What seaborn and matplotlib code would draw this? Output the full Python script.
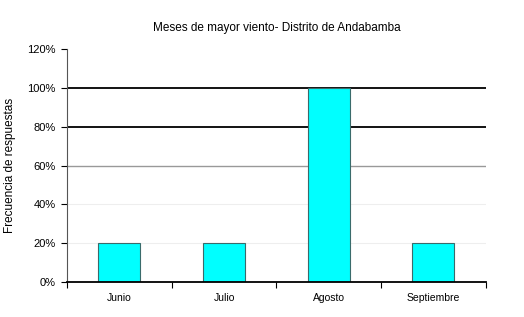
import matplotlib
matplotlib.use("Agg")
import matplotlib.pyplot as plt
import seaborn as sns
import pandas as pd

meses = ["Junio", "Julio", "Agosto", "Septiembre"]
frecuencia = [20, 20, 100, 20]
y_ticks = [0, 20, 40, 60, 80, 100, 120]

sns.set_style("white")
plt.rcParams["font.family"] = ["Liberation Sans", "DejaVu Sans"]
plt.rcParams["text.color"] = "black"
plt.rcParams["axes.labelcolor"] = "black"
plt.rcParams["xtick.color"] = "black"
plt.rcParams["ytick.color"] = "black"

df = pd.DataFrame({"Mes": meses, "Frecuencia": frecuencia})

fig = plt.figure(figsize=(5.24, 3.17), dpi=100)
ax = fig.add_axes([0.128, 0.110, 0.799, 0.735])

# grid lines drawn by hand, heavier at the top like the original
grid_styles = {100: ("black", 1.3), 80: ("black", 1.3), 60: ("#999999", 1.0),
               40: ("#eeeeee", 0.8), 20: ("#eeeeee", 0.8)}
for val, (c, lw) in grid_styles.items():
    ax.axhline(val, color=c, lw=lw, zorder=0)

sns.barplot(data=df, x="Mes", y="Frecuencia", color="#00FFFF", saturation=1,
            width=0.4, edgecolor="#3a6b6b", linewidth=0.8, ax=ax, zorder=2)

ax.set_ylim(0, 120)
ax.set_xlim(-0.5, 3.5)
ax.set_yticks(y_ticks)
ax.set_yticklabels([f"{v}%" for v in y_ticks])
ax.set_xlabel("")
ax.set_ylabel("Frecuencia de respuestas", fontsize=8.5, labelpad=8)
ax.set_title("Meses de mayor viento- Distrito de Andabamba", fontsize=8.5, pad=13)

# category separators as ticks on the bottom axis
ax.set_xticks([-0.5, 0.5, 1.5, 2.5, 3.5], minor=True)
ax.tick_params(axis="x", which="minor", length=4, width=0.8, direction="out", bottom=True)
ax.tick_params(axis="x", which="major", length=0, labelsize=7.5, pad=8)
ax.tick_params(axis="y", length=4, width=0.8, direction="out", left=True, labelsize=8, pad=4)

for s in ["top", "right"]:
    ax.spines[s].set_visible(False)
ax.spines["left"].set_color("#555555")
ax.spines["left"].set_linewidth(0.8)
ax.spines["bottom"].set_color("black")
ax.spines["bottom"].set_linewidth(1.3)

fig.savefig("out.png", dpi=100)
